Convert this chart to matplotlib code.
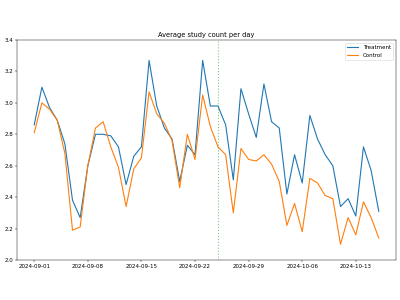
import numpy as np
import pandas as pd
import matplotlib
matplotlib.use("Agg")
import matplotlib.pyplot as plt
import matplotlib.dates as mdates

start_date = "2024-09-01"
n_days = 46
split_date = "2024-09-25"

treatment = [2.86, 3.10, 2.97, 2.89, 2.74, 2.38, 2.27, 2.60, 2.80, 2.80,
             2.79, 2.72, 2.48, 2.66, 2.72, 3.27, 2.98, 2.84, 2.77, 2.50,
             2.73, 2.67, 3.27, 2.98, 2.98, 2.86, 2.51, 3.09, 2.93, 2.78,
             3.12, 2.88, 2.84, 2.42, 2.67, 2.49, 2.92, 2.77, 2.67, 2.60,
             2.34, 2.39, 2.28, 2.72, 2.57, 2.31]
control = [2.81, 3.00, 2.96, 2.89, 2.68, 2.19, 2.21, 2.60, 2.84, 2.88,
           2.72, 2.59, 2.34, 2.58, 2.65, 3.07, 2.93, 2.87, 2.76, 2.46,
           2.80, 2.64, 3.05, 2.85, 2.72, 2.67, 2.30, 2.71, 2.64, 2.63,
           2.67, 2.61, 2.50, 2.22, 2.36, 2.18, 2.52, 2.49, 2.41, 2.39,
           2.10, 2.27, 2.16, 2.37, 2.27, 2.14]

dates = pd.date_range(start_date, periods=n_days, freq="D")

fig = plt.figure(figsize=(10, 7.5), dpi=40)
# axes box placed to match the reference (pixels: left 17, right 396, top 40, bottom 260)
ax = fig.add_axes([17 / 400, 40 / 300, 379 / 400, 220 / 300])
ax.plot(dates, treatment, label="Treatment", color="tab:blue", linewidth=2.0)
ax.plot(dates, control, label="Control", color="tab:orange", linewidth=2.0)
ax.axvline(pd.Timestamp(split_date), color="tab:green", alpha=0.6, linestyle=":", linewidth=2.0)
ax.set_ylim(2.0, 3.4)
ax.xaxis.set_major_locator(mdates.WeekdayLocator(byweekday=mdates.SU))
ax.xaxis.set_major_formatter(mdates.DateFormatter("%Y-%m-%d"))
ax.set_title("Average study count per day")
ax.legend(loc="upper right")
fig.savefig("out.png")
